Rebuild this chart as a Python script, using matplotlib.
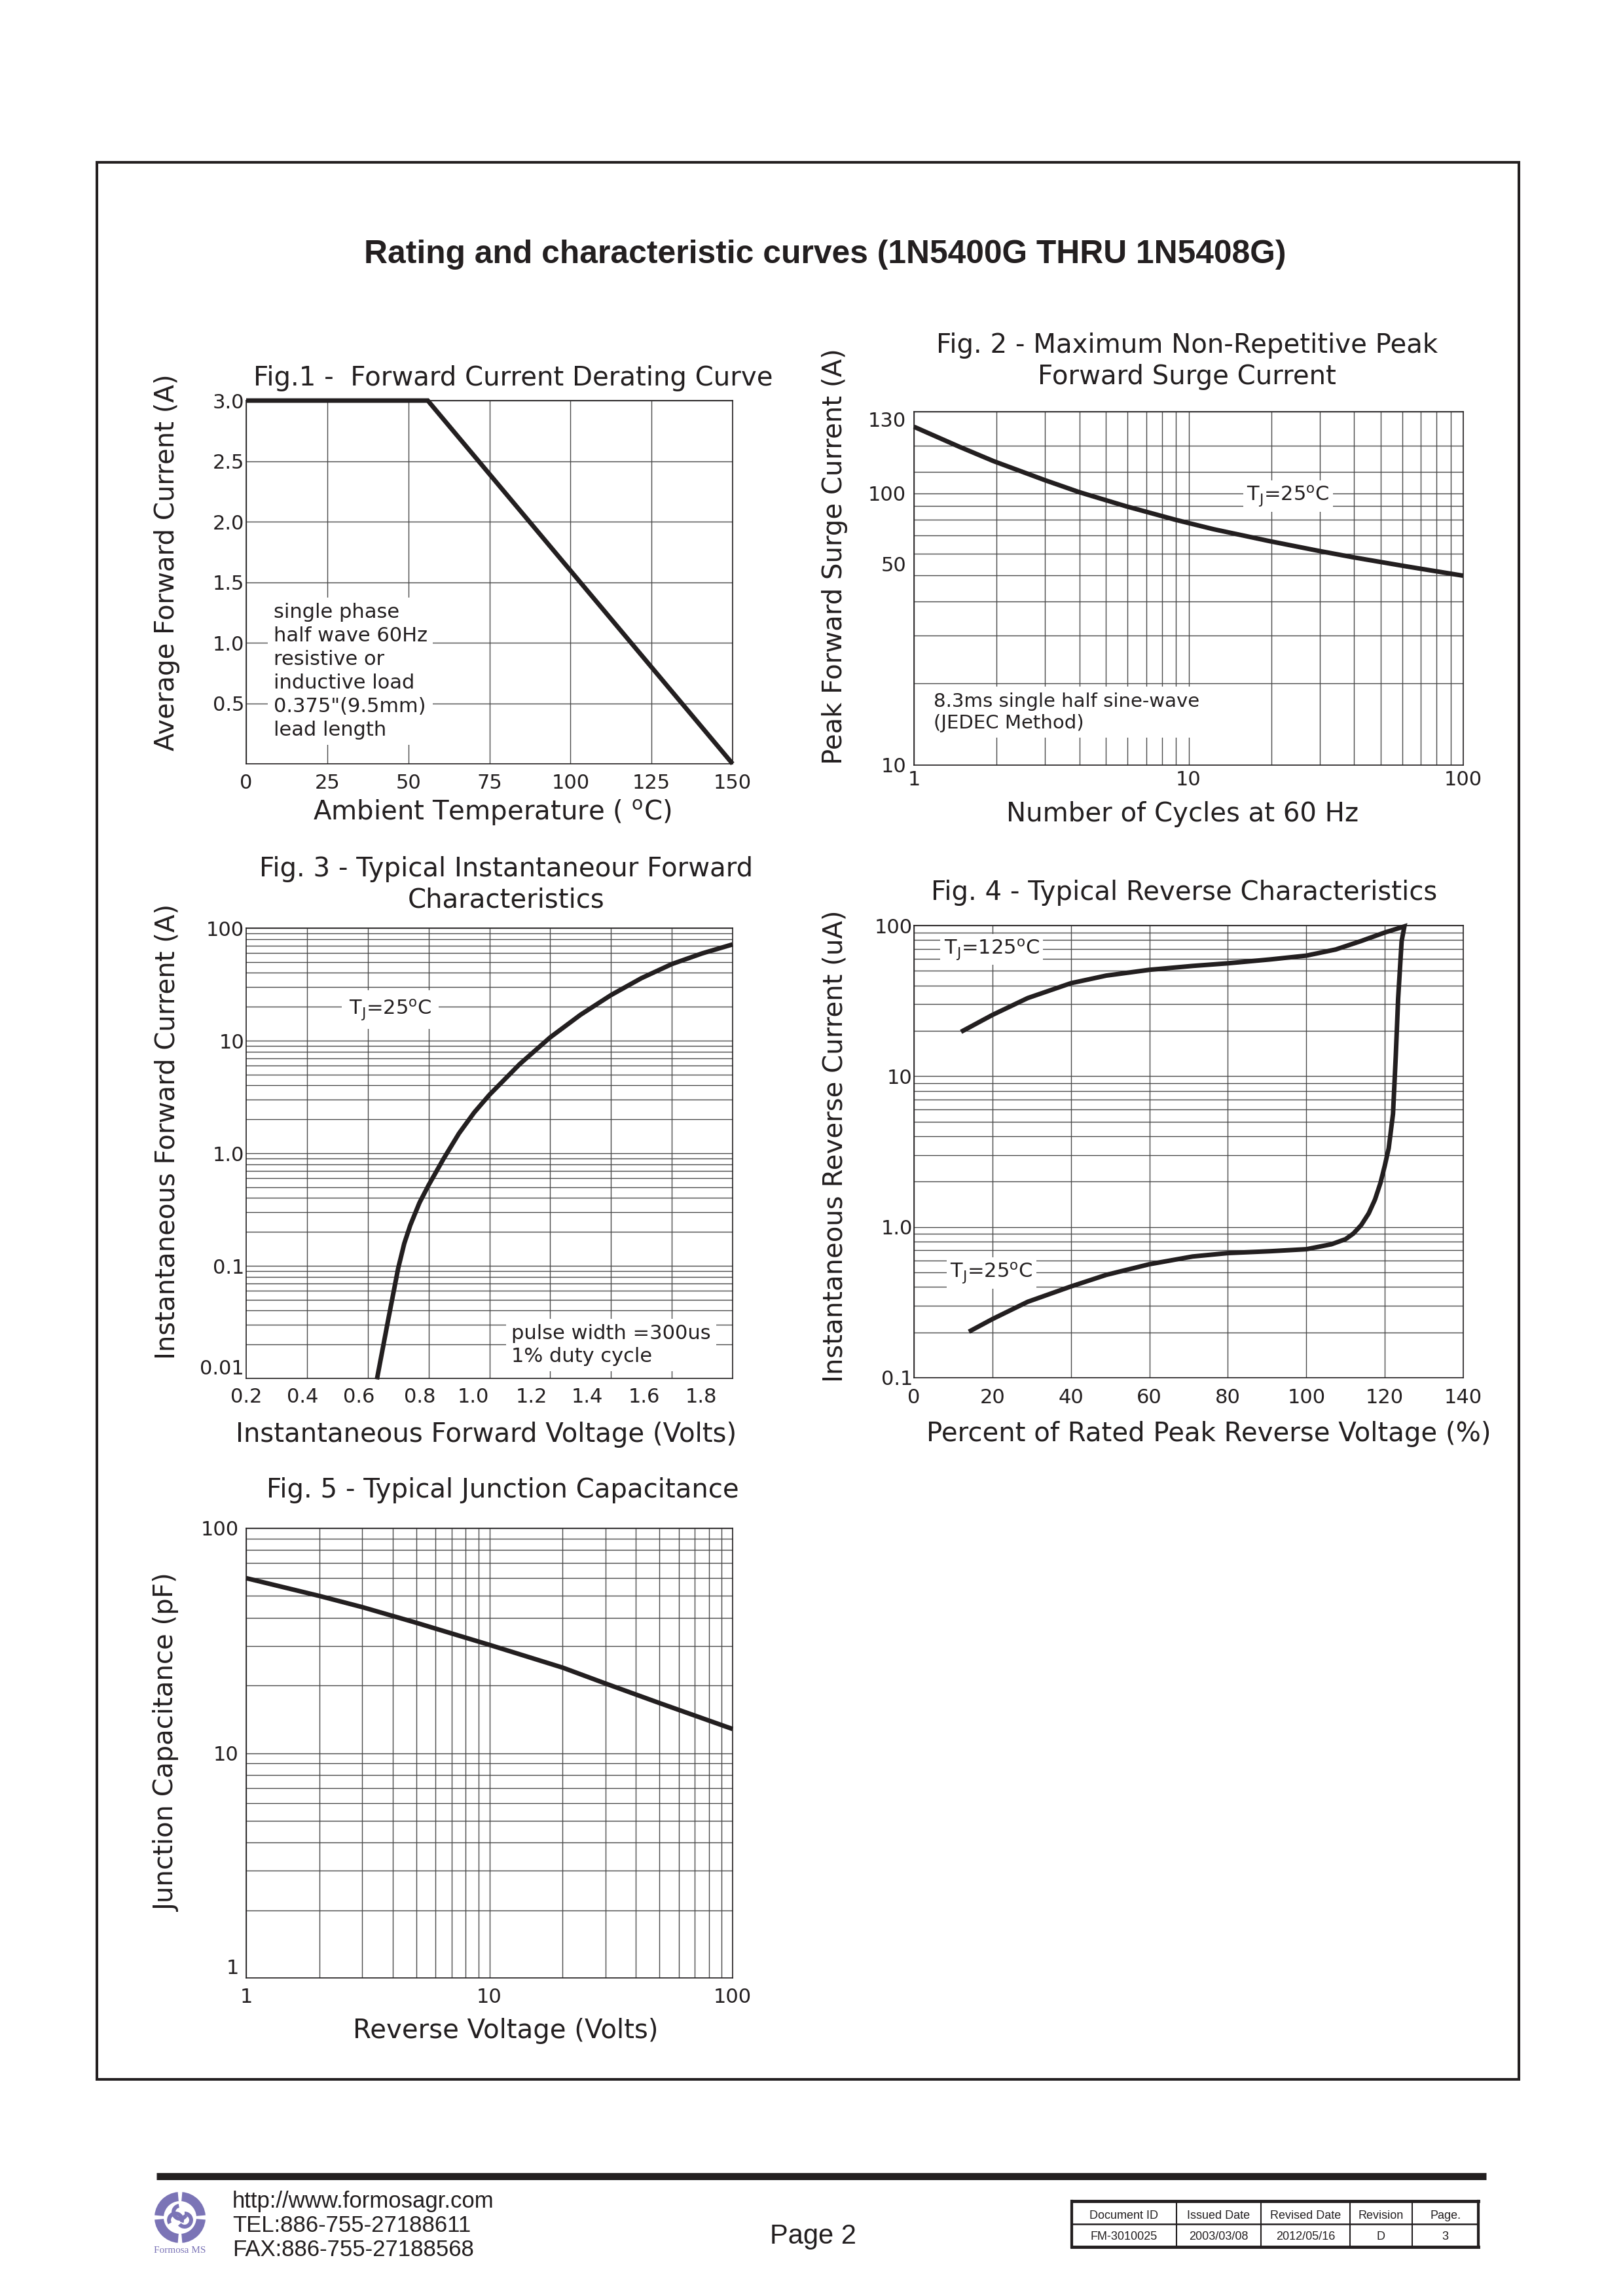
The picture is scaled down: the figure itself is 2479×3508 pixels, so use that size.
import numpy as np
import matplotlib
matplotlib.use('Agg')
import matplotlib.pyplot as plt
from matplotlib.patches import Wedge, Rectangle
from matplotlib.ticker import FixedLocator, FixedFormatter, NullFormatter

W, H = 2479, 3508
DPI = 100
INK = '#231f20'
GRID = '#4a4a4a'
PURPLE = '#7b74b6'

# ---------------- data ----------------
# Fig.1 Forward current derating
fig1_temp = [0, 56, 150]
fig1_current = [3.0, 3.0, 0.0]
fig1_xticks = [0, 25, 50, 75, 100, 125, 150]
fig1_yticks = [0.5, 1.0, 1.5, 2.0, 2.5, 3.0]
fig1_yticklabels = ['0.5', '1.0', '1.5', '2.0', '2.5', '3.0']

# Fig.2 Peak forward surge current
fig2_cycles = [1, 1.46, 1.95, 3, 4, 5.9, 9, 12.3, 19.8, 29.7, 39.8, 62, 100]
fig2_surge = [176, 148.7, 131.5, 111.9, 101.1, 89.8, 79.9, 73.9, 66.7, 61.5,
              58.2, 53.9, 49.8]
fig2_xticks = [1, 10, 100]
fig2_xticklabels = ['1', '10', '100']
fig2_ytick_pos = [10, 50, 100, 200]
fig2_yticklabels = ['10', '50', '100', '130']
fig2_ygrid = [20, 30, 40, 60, 70, 80, 90, 120, 150]

# Fig.3 Forward characteristics
fig3_voltage = [0.63, 0.667, 0.70, 0.72, 0.74, 0.77, 0.80, 0.85, 0.90, 0.95,
                1.0, 1.1, 1.2, 1.3, 1.4, 1.5, 1.6, 1.7, 1.8]
fig3_current = [0.0098, 0.033, 0.095, 0.158, 0.23, 0.363, 0.52, 0.90, 1.50,
                2.3, 3.3, 6.2, 10.7, 17.0, 25.4, 35.9, 47.9, 59.6, 71.6]
fig3_xticklabels = ['0.2', '0.4', '0.6', '0.8', '1.0', '1.2', '1.4', '1.6', '1.8']
fig3_xtick_pos = [0.200, 0.385, 0.570, 0.772, 0.948, 1.138, 1.322, 1.509, 1.697]
fig3_xgrid = [0.4, 0.6, 0.8, 1.0, 1.2, 1.4, 1.6]
fig3_yticks = [0.01, 0.1, 1, 10, 100]
fig3_yticklabels = ['0.01', '0.1', '1.0', '10', '100']

# Fig.4 Reverse characteristics
fig4_pct_125 = [12, 20, 29, 40, 49, 60, 71, 80, 91, 100, 107.5, 114, 120, 125]
fig4_ir_125 = [19.7, 25.5, 33.0, 41.4, 46.5, 50.8, 53.9, 56.1, 59.6, 63.1,
               69.3, 78.9, 89.8, 98.6]
fig4_pct_25 = [14, 20, 29, 40, 49, 60, 71, 80, 91, 100, 106.4, 110, 112, 114,
               115.9, 117.5, 118.9, 120, 121, 122.1, 122.8, 123.4, 124.3, 125]
fig4_ir_25 = [0.202, 0.245, 0.319, 0.403, 0.481, 0.566, 0.637, 0.671, 0.691,
              0.712, 0.768, 0.83, 0.905, 1.03, 1.23, 1.52, 1.96, 2.55, 3.33,
              5.64, 13.6, 32.7, 78.9, 98.6]
fig4_xticks = [0, 20, 40, 60, 80, 100, 120, 140]
fig4_yticks = [0.1, 1, 10, 100]
fig4_yticklabels = ['0.1', '1.0', '10', '100']

# Fig.5 Junction capacitance
fig5_voltage = [1, 2, 3, 5, 10, 20, 30, 50, 100]
fig5_cap = [60, 50, 44.6, 38.0, 30.3, 24.0, 20.4, 16.7, 12.8]
fig5_ticks = [1, 10, 100]
fig5_ticklabels = ['1', '10', '100']

# footer table
table_head = ['Document ID', 'Issued Date', 'Revised Date', 'Revision', 'Page.']
table_vals = ['FM-3010025', '2003/03/08', '2012/05/16', 'D', '3']


def log_minors(e0, e1):
    return [m * 10.0 ** e for e in range(e0, e1) for m in range(2, 10)]


# ---------------- helpers ----------------
def px_rect(x0, y0, x1, y1):
    return [x0 / W, 1 - y1 / H, (x1 - x0) / W, (y1 - y0) / H]


def frac(box, px, py):
    x0, y0, x1, y1 = box
    return (px - x0) / (x1 - x0), (y1 - py) / (y1 - y0)


def style(ax, xpad, ypad):
    for s in ax.spines.values():
        s.set_color(INK)
        s.set_linewidth(1.2)
    ax.tick_params(which='both', length=0, labelsize=22, colors=INK)
    ax.tick_params(axis='x', pad=xpad)
    ax.tick_params(axis='y', pad=ypad)
    ax.set_axisbelow(True)


def labels(ax, box, title, tpos, xlabel, xpos, ylabel, ypos):
    fx, fy = frac(box, *tpos)
    ax.text(fx, fy, title, transform=ax.transAxes, ha='center', va='center',
            fontsize=29, color=INK, linespacing=1.25)
    lx = ax.set_xlabel(xlabel, fontsize=29, color=INK)
    ax.xaxis.set_label_coords(*frac(box, *xpos))
    lx.set_va('center')
    ly = ax.set_ylabel(ylabel, fontsize=29, color=INK)
    ax.yaxis.set_label_coords(*frac(box, *ypos))
    ly.set_va('center')
    ly.set_ha('center')
    ly.set_rotation_mode('default')


def curve(ax, x, y):
    ax.plot(x, y, color=INK, lw=5, solid_capstyle='butt',
            solid_joinstyle='round', clip_on=False, zorder=4)


def note(ax, x, y, s, size=22, ha='left', pad=6, ls=1.25):
    ax.text(x, y, s, ha=ha, va='center', fontsize=size, color=INK,
            linespacing=ls, zorder=3,
            bbox=dict(facecolor='white', edgecolor='none', pad=pad))


def shift_ytick(ax, idx, va):
    ax.get_yticklabels()[idx].set_va(va)


TJ25 = r'T$_{\mathrm{J}}$=25$^{\mathrm{o}}$C'
TJ125 = r'T$_{\mathrm{J}}$=125$^{\mathrm{o}}$C'

plt.rcParams['font.family'] = ['DejaVu Sans']
plt.rcParams['mathtext.fontset'] = 'dejavusans'

fig = plt.figure(figsize=(W / DPI, H / DPI), dpi=DPI, facecolor='white')

# ---------------- page layer ----------------
page = fig.add_axes([0, 0, 1, 1], zorder=0)
page.set_xlim(0, W)
page.set_ylim(H, 0)
page.axis('off')
page.add_patch(Rectangle((148, 248), 2320 - 148, 3177 - 248, fill=False,
                         edgecolor=INK, lw=2.9))
page.text(1260, 402, 'Rating and characteristic curves (1N5400G THRU 1N5408G)',
          ha='center', va='baseline', fontsize=35.8, fontweight='bold',
          family='Liberation Sans', color=INK)

# footer bar
page.plot([239, 2270], [3325, 3325], color=INK, lw=7.8, solid_capstyle='butt')
# logo
cx, cy = 275, 3388
for a0 in (5, 95, 185, 275):
    page.add_patch(Wedge((cx, cy), 39, a0, a0 + 80, width=14, color=PURPLE, lw=0))
for ang in (90, 210, 330):
    r = np.deg2rad(ang)
    page.add_patch(Wedge((cx + 8 * np.cos(r), cy - 8 * np.sin(r)), 13,
                         ang - 60, ang + 170, width=6, color=PURPLE, lw=0))
page.text(cx, 3438, 'Formosa MS', ha='center', va='center', fontsize=11,
          family='Liberation Serif', color=PURPLE)
for txt, yb in (('http://www.formosagr.com', 3373), ('TEL:886-755-27188611', 3410),
                ('FAX:886-755-27188568', 3447)):
    page.text(355, yb, txt, ha='left', va='baseline', fontsize=25,
              family='Liberation Sans', color=INK)
page.text(1242, 3428, 'Page 2', ha='center', va='baseline', fontsize=30,
          family='Liberation Sans', color=INK)
# table
cols = [1637, 1797, 1926, 2062, 2157, 2258]
ty0, tym, ty1 = 3363, 3398, 3433
page.plot([cols[0], cols[-1]], [ty0, ty0], color=INK, lw=3.5, solid_capstyle='projecting')
page.plot([cols[0], cols[-1]], [ty1, ty1], color=INK, lw=3.5, solid_capstyle='projecting')
page.plot([cols[0], cols[-1]], [tym, tym], color=INK, lw=1.8)
page.plot([cols[0], cols[0]], [ty0, ty1], color=INK, lw=3.0)
page.plot([cols[-1], cols[-1]], [ty0, ty1], color=INK, lw=3.0)
for c in cols[1:-1]:
    page.plot([c, c], [ty0, ty1], color=INK, lw=1.5)
for i in range(5):
    xm = (cols[i] + cols[i + 1]) / 2
    page.text(xm, 3390, table_head[i], ha='center', va='baseline', fontsize=13,
              family='Liberation Sans', color=INK)
    page.text(xm, 3422, table_vals[i], ha='center', va='baseline', fontsize=13,
              family='Liberation Sans', color=INK)

# ---------------- Fig.1 ----------------
box1 = (376, 612, 1119, 1167)
ax1 = fig.add_axes(px_rect(*box1))
ax1.plot(fig1_temp, fig1_current, color=INK, lw=5, solid_capstyle='butt',
         solid_joinstyle='miter', clip_on=False, zorder=4)
ax1.set_xlim(0, 150)
ax1.set_ylim(0, 3.0)
ax1.set_xticks(fig1_xticks)
ax1.set_yticks(fig1_yticks)
ax1.set_yticklabels(fig1_yticklabels)
ax1.grid(True, color=GRID, lw=1.0)
style(ax1, 11, 2)
labels(ax1, box1, 'Fig.1 -  Forward Current Derating Curve', (784, 578),
       r'Ambient Temperature ( $^{\mathrm{o}}$C)', (752, 1242),
       'Average Forward Current (A)', (255, 859))
note(ax1, 8.4, 0.765,
     'single phase\nhalf wave 60Hz\nresistive or\ninductive load\n'
     '0.375"(9.5mm)\nlead length', ls=1.3)

# ---------------- Fig.2 ----------------
box2 = (1396, 629, 2235, 1169)
ax2 = fig.add_axes(px_rect(*box2))
curve(ax2, fig2_cycles, fig2_surge)
ax2.set_xscale('log')
ax2.set_yscale('log')
ax2.set_xlim(1, 100)
ax2.set_ylim(10, 200)
ax2.xaxis.set_major_locator(FixedLocator(fig2_xticks))
ax2.xaxis.set_major_formatter(FixedFormatter(fig2_xticklabels))
ax2.xaxis.set_minor_locator(FixedLocator(log_minors(0, 2)))
ax2.xaxis.set_minor_formatter(NullFormatter())
ax2.yaxis.set_major_locator(FixedLocator(fig2_ytick_pos))
ax2.yaxis.set_major_formatter(FixedFormatter(fig2_yticklabels))
ax2.yaxis.set_minor_locator(FixedLocator(fig2_ygrid))
ax2.yaxis.set_minor_formatter(NullFormatter())
ax2.grid(True, which='both', color=GRID, lw=1.0)
style(ax2, 6, 8.6)
shift_ytick(ax2, 1, 'bottom')
shift_ytick(ax2, 3, 'top')
labels(ax2, box2, 'Fig. 2 - Maximum Non-Repetitive Peak\nForward Surge Current',
       (1813, 552), 'Number of Cycles at 60 Hz', (1806, 1244),
       'Peak Forward Surge Current (A)', (1275, 850))
note(ax2, 1.176, 15.65, '8.3ms single half sine-wave\n(JEDEC Method)', size=21)
note(ax2, 23.0, 98.0, TJ25, ha='center', pad=4)

# ---------------- Fig.3 ----------------
box3 = (376, 1418, 1119, 2106)
ax3 = fig.add_axes(px_rect(*box3))
curve(ax3, fig3_voltage, fig3_current)
ax3.set_yscale('log')
ax3.set_xlim(0.2, 1.8)
ax3.set_ylim(0.01, 100)
ax3.xaxis.set_major_locator(FixedLocator(fig3_xtick_pos))
ax3.xaxis.set_major_formatter(FixedFormatter(fig3_xticklabels))
ax3.xaxis.set_minor_locator(FixedLocator(fig3_xgrid))
ax3.yaxis.set_major_locator(FixedLocator(fig3_yticks))
ax3.yaxis.set_major_formatter(FixedFormatter(fig3_yticklabels))
ax3.yaxis.set_minor_locator(FixedLocator(log_minors(-2, 2)))
ax3.yaxis.set_minor_formatter(NullFormatter())
ax3.xaxis.grid(True, which='minor', color=GRID, lw=1.0)
ax3.yaxis.grid(True, which='both', color=GRID, lw=1.0)
style(ax3, 10, 2)
shift_ytick(ax3, 0, 'bottom')
labels(ax3, box3, 'Fig. 3 - Typical Instantaneour Forward\nCharacteristics',
       (773, 1352), 'Instantaneous Forward Voltage (Volts)', (743, 2192),
       'Instantaneous Forward Current (A)', (255, 1729))
note(ax3, 0.674, 19.0, TJ25, ha='center', pad=8)
note(ax3, 1.072, 0.0198, 'pulse width =300us\n1% duty cycle')

# ---------------- Fig.4 ----------------
box4 = (1396, 1414, 2235, 2105)
ax4 = fig.add_axes(px_rect(*box4))
path_x = list(fig4_pct_25) + list(fig4_pct_125[::-1])
path_y = list(fig4_ir_25) + list(fig4_ir_125[::-1])
ax4.plot(path_x, path_y, color=INK, lw=5, solid_capstyle='butt',
         solid_joinstyle='miter', clip_on=False, zorder=4)
ax4.set_yscale('log')
ax4.set_xlim(0, 140)
ax4.set_ylim(0.1, 100)
ax4.xaxis.set_major_locator(FixedLocator(fig4_xticks))
ax4.yaxis.set_major_locator(FixedLocator(fig4_yticks))
ax4.yaxis.set_major_formatter(FixedFormatter(fig4_yticklabels))
ax4.yaxis.set_minor_locator(FixedLocator(log_minors(-1, 2)))
ax4.yaxis.set_minor_formatter(NullFormatter())
ax4.grid(True, which='both', color=GRID, lw=1.0)
style(ax4, 11.5, 1.5)
labels(ax4, box4, 'Fig. 4 - Typical Reverse Characteristics', (1809, 1364),
       'Percent of Rated Peak Reverse Voltage (%)', (1846, 2191),
       'Instantaneous Reverse Current (uA)', (1275, 1751))
note(ax4, 19.8, 69.4, TJ125, ha='center', pad=4)
note(ax4, 19.8, 0.495, TJ25, ha='center', pad=4)

# ---------------- Fig.5 ----------------
box5 = (376, 2335, 1119, 3022)
ax5 = fig.add_axes(px_rect(*box5))
curve(ax5, fig5_voltage, fig5_cap)
ax5.set_xscale('log')
ax5.set_yscale('log')
ax5.set_xlim(1, 100)
ax5.set_ylim(1, 100)
for axis in (ax5.xaxis, ax5.yaxis):
    axis.set_major_locator(FixedLocator(fig5_ticks))
    axis.set_major_formatter(FixedFormatter(fig5_ticklabels))
    axis.set_minor_locator(FixedLocator(log_minors(0, 2)))
    axis.set_minor_formatter(NullFormatter())
ax5.grid(True, which='both', color=GRID, lw=1.0)
style(ax5, 11, 8)
shift_ytick(ax5, 0, 'bottom')
labels(ax5, box5, 'Fig. 5 - Typical Junction Capacitance', (768, 2277),
       'Reverse Voltage (Volts)', (772, 3103),
       'Junction Capacitance (pF)', (255, 2663))

fig.savefig('out.png', dpi=DPI, facecolor='white')
